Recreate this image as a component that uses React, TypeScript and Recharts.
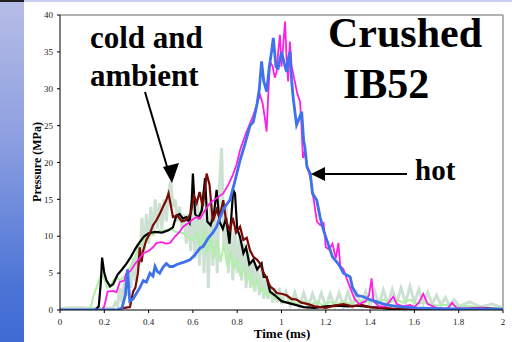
import { LineChart, Line, XAxis, YAxis, ReferenceLine } from "recharts";

// [time ms, pressure MPa]
const hotBlue: [number, number][] = [
  [0, 0], [0.1, 0], [0.2, 0], [0.26, 0], [0.28, 0.3], [0.295, 2], [0.305, 5.5], [0.315, 1.2],
  [0.33, 1.5], [0.346, 2.3], [0.36, 3], [0.376, 4], [0.39, 3.8], [0.406, 5], [0.42, 4.6],
  [0.429, 5.9], [0.44, 5.2], [0.45, 5], [0.465, 5.8], [0.48, 6.3], [0.495, 5.9], [0.51, 5.9],
  [0.53, 6.2], [0.56, 6.5], [0.587, 6.8], [0.61, 7.5], [0.632, 8.4], [0.646, 8.6], [0.67, 9.8],
  [0.69, 10.5], [0.707, 11.3], [0.722, 12.5], [0.74, 13.8], [0.767, 14.9], [0.79, 17.5],
  [0.813, 20.3], [0.835, 22.5], [0.858, 25], [0.873, 25.5], [0.89, 28], [0.9, 30], [0.91, 33.7],
  [0.92, 31], [0.933, 29.6], [0.945, 33], [0.955, 35], [0.963, 36.9], [0.975, 33], [0.985, 32.8],
  [0.993, 34], [1.0, 35], [1.012, 33.5], [1.023, 32.3], [1.03, 34], [1.038, 35], [1.046, 31],
  [1.053, 28.7], [1.06, 27], [1.068, 25.1], [1.08, 26], [1.091, 26.9], [1.1, 23], [1.106, 22],
  [1.115, 19.4], [1.13, 18.5], [1.14, 15.8], [1.159, 14.9], [1.175, 12.5], [1.19, 10.8],
  [1.21, 9], [1.23, 7.2], [1.25, 6.5], [1.264, 5.9], [1.28, 5], [1.31, 4.5], [1.32, 3.1],
  [1.34, 2], [1.37, 1.8], [1.4, 1.4], [1.44, 1.0], [1.475, 0.7], [1.52, 0.5], [1.56, 0.4],
  [1.6, 0.3], [1.7, 0.2], [1.8, 0.15], [1.9, 0.1], [2.0, 0.1],
];

const hotMagenta: [number, number][] = [
  [0, 0], [0.19, 0], [0.2, 0.5], [0.215, 2.5], [0.24, 2.6], [0.255, 2.4], [0.27, 3.8], [0.29, 4],
  [0.3, 5], [0.316, 5.2], [0.34, 6.3], [0.36, 7], [0.376, 7.7], [0.4, 8], [0.42, 8.5],
  [0.436, 9.1], [0.46, 9.2], [0.48, 9], [0.497, 9.1], [0.52, 10], [0.54, 10.6], [0.556, 11.3],
  [0.58, 11.8], [0.6, 12.3], [0.617, 12.6], [0.632, 12.4], [0.65, 13.3], [0.677, 14.5],
  [0.7, 15], [0.737, 15.8], [0.76, 17], [0.78, 18.3], [0.797, 19.7], [0.813, 21.7], [0.84, 24],
  [0.873, 26.4], [0.89, 28], [0.903, 29.2], [0.915, 28], [0.925, 26], [0.933, 24.2], [0.94, 29],
  [0.948, 33.7], [0.96, 33], [0.97, 31.5], [0.978, 32.3], [0.985, 35], [0.993, 37.3], [1.0, 33],
  [1.008, 36], [1.016, 39.1], [1.023, 34], [1.03, 31], [1.038, 36.4], [1.046, 33], [1.053, 32],
  [1.06, 31], [1.07, 29.5], [1.084, 28.2], [1.09, 25.1], [1.097, 20.6], [1.105, 21.5],
  [1.115, 19.5], [1.13, 18], [1.145, 15], [1.16, 12], [1.175, 11.5], [1.19, 11.8], [1.2, 8.5],
  [1.215, 8.2], [1.23, 9], [1.245, 7], [1.257, 9.1], [1.265, 6], [1.28, 5.5], [1.294, 4.3],
  [1.31, 3], [1.33, 1.5], [1.35, 0.8], [1.38, 1.2], [1.395, 2], [1.407, 4.3], [1.415, 1.2],
  [1.44, 0.5], [1.47, 0.5], [1.505, 1.8], [1.52, 0.8], [1.55, 0.5], [1.58, 0.7], [1.6, 0.4],
  [1.62, 1], [1.64, 2.2], [1.66, 0.8], [1.7, 0.3], [1.75, 0.2], [1.77, 1], [1.79, 0.3],
  [1.85, 0.2], [1.9, 0.3], [1.95, 0.1], [2.0, 0.2],
];

const coldBlack: [number, number][] = [
  [0, 0], [0.16, 0], [0.175, 0.5], [0.185, 4], [0.19, 7.1], [0.2, 5], [0.21, 4], [0.226, 3.2],
  [0.24, 3.5], [0.26, 4.8], [0.28, 5.5], [0.3, 6.3], [0.32, 7.2], [0.34, 8.3], [0.36, 9.2],
  [0.38, 10], [0.4, 10.4], [0.43, 10.6], [0.46, 10.5], [0.49, 10.8], [0.51, 11.2], [0.525, 12.8],
  [0.54, 13], [0.555, 12.4], [0.57, 12.6], [0.585, 11.8], [0.595, 15], [0.6, 18.5], [0.61, 13],
  [0.625, 12.5], [0.64, 13.5], [0.655, 17.9], [0.665, 12], [0.68, 11.5], [0.695, 13],
  [0.707, 16.3], [0.72, 12], [0.735, 11], [0.75, 12.5], [0.765, 9], [0.782, 16.3], [0.79, 15.8],
  [0.8, 11], [0.813, 9.9], [0.828, 7.7], [0.84, 8.5], [0.855, 6.2], [0.873, 6.8], [0.89, 5.5],
  [0.91, 6.3], [0.92, 4.5], [0.933, 4.5], [0.948, 2.5], [0.97, 2], [1.0, 1.2], [1.05, 0.8],
  [1.1, 0.4], [1.15, 0.3], [1.2, 0.5], [1.25, 0.6], [1.3, 0.5], [1.35, 0.6], [1.4, 0.4],
  [1.45, 0.3], [1.5, 0.1], [1.6, 0], [2, 0],
];

const coldRed: [number, number][] = [
  [0, 0], [0.26, 0], [0.29, 0.3], [0.316, 0.4], [0.33, 2.5], [0.34, 3], [0.352, 5], [0.36, 8.5],
  [0.368, 6.5], [0.376, 8.1], [0.39, 9.5], [0.406, 10.4], [0.42, 11.5], [0.436, 12.2],
  [0.45, 13], [0.465, 14], [0.48, 14.9], [0.49, 15.8], [0.51, 12.6], [0.53, 12.8], [0.55, 12],
  [0.57, 12.2], [0.59, 13], [0.605, 15.5], [0.617, 14.5], [0.63, 16], [0.645, 14],
  [0.662, 18.5], [0.675, 17], [0.69, 12], [0.707, 13.6], [0.72, 12.5], [0.737, 14.9], [0.75, 12],
  [0.767, 10.8], [0.78, 12.5], [0.795, 10.5], [0.813, 11.3], [0.828, 9.5], [0.843, 9.8],
  [0.858, 8.1], [0.873, 7.2], [0.89, 6.8], [0.903, 6.3], [0.92, 5], [0.935, 4.2], [0.948, 3.2],
  [0.965, 2.8], [0.978, 2.3], [1.0, 2.2], [1.023, 2.0], [1.045, 1.5], [1.068, 1.4], [1.09, 1],
  [1.12, 0.8], [1.15, 0.5], [1.2, 0.3], [1.24, 0.6], [1.28, 0.8], [1.32, 0.5], [1.36, 0.7],
  [1.4, 0.4], [1.45, 0.3], [1.5, 0.2], [1.6, 0.1], [1.8, 0.1], [1.9, 0.3], [1.95, 0.2], [2, 0.1],
];

const coldGreen: [number, number][] = [
  [0, 0], [0.12, 0], [0.14, 0.5], [0.15, 1.8], [0.17, 3.5], [0.188, 5], [0.2, 4.2], [0.213, 3],
  [0.226, 3.2], [0.24, 4], [0.256, 4.5], [0.27, 4], [0.285, 4.4], [0.3, 5], [0.32, 6],
  [0.346, 7.7], [0.37, 9], [0.391, 9.9], [0.42, 10.3], [0.45, 10.8], [0.48, 10.8], [0.497, 11.1],
  [0.52, 10.6], [0.556, 10.4], [0.58, 9.8], [0.602, 9.5], [0.62, 10.5], [0.635, 8], [0.65, 11],
  [0.665, 7.5], [0.68, 10], [0.695, 7], [0.71, 9.5], [0.725, 6.5], [0.74, 9], [0.755, 6],
  [0.77, 8], [0.785, 5.5], [0.8, 7], [0.815, 4.5], [0.83, 6], [0.845, 4], [0.86, 5], [0.875, 3],
  [0.89, 4], [0.905, 2.5], [0.92, 3], [0.935, 1.8], [0.95, 2.5], [0.97, 1.5], [0.99, 1.8],
  [1.01, 1], [1.04, 1.3], [1.07, 0.8], [1.1, 1.2], [1.13, 0.7], [1.16, 1.1], [1.19, 0.6],
  [1.22, 1.1], [1.25, 0.7], [1.28, 1.2], [1.31, 0.8], [1.34, 1.3], [1.37, 0.9], [1.4, 1.3],
  [1.43, 0.9], [1.46, 1.4], [1.49, 1], [1.52, 1.4], [1.55, 1], [1.58, 1.4], [1.61, 0.9],
  [1.65, 1], [1.7, 0.6], [1.75, 0.7], [1.8, 0.5], [1.85, 0.5], [1.9, 0.3], [2, 0.2],
];

const coldPale: [number, number][] = [
  [0, 0.2], [0.05, 0.3], [0.1, 0.3], [0.15, 0.2], [0.2, 0.2], [0.24, 0.3],
  [0.25, 1], [0.26, 0.5], [0.27, 3], [0.28, 1], [0.29, 4], [0.3, 2], [0.31, 5], [0.32, 3],
  [0.33, 7], [0.34, 4], [0.35, 9], [0.36, 6], [0.37, 12.5], [0.38, 8], [0.39, 13], [0.4, 9],
  [0.41, 14], [0.42, 10], [0.43, 15], [0.44, 11], [0.45, 14.5], [0.46, 11], [0.47, 15],
  [0.48, 12], [0.49, 16], [0.5, 17.5], [0.51, 14], [0.52, 15], [0.53, 12], [0.54, 14],
  [0.55, 11], [0.56, 13], [0.57, 9], [0.58, 13], [0.59, 8], [0.6, 14], [0.61, 7], [0.62, 15],
  [0.63, 6], [0.64, 16], [0.65, 5], [0.66, 14], [0.67, 3], [0.68, 15], [0.69, 6], [0.7, 13],
  [0.71, 5], [0.72, 17], [0.73, 22], [0.74, 8], [0.75, 14], [0.76, 5], [0.77, 12], [0.78, 4],
  [0.79, 11], [0.8, 5], [0.81, 10], [0.82, 4], [0.83, 9], [0.84, 3], [0.85, 8], [0.86, 3],
  [0.87, 7], [0.88, 2.5], [0.89, 6], [0.9, 2], [0.91, 5.5], [0.92, 1.5], [0.93, 4.5],
  [0.94, 1.5], [0.95, 3.5], [0.96, 1], [0.97, 3], [0.98, 1], [0.99, 3], [1.0, 0.8],
  [1.02, 2.5], [1.04, 0.6], [1.06, 2.4], [1.08, 0.5], [1.1, 2.3], [1.12, 0.5], [1.14, 2.2],
  [1.16, 0.5], [1.18, 2.3], [1.2, 0.4], [1.22, 2.2], [1.24, 0.5], [1.26, 2.3], [1.28, 0.5],
  [1.3, 2.4], [1.32, 0.6], [1.34, 2.3], [1.36, 0.6], [1.38, 2.5], [1.4, 0.7], [1.42, 2.6],
  [1.44, 0.7], [1.46, 2.7], [1.48, 0.8], [1.5, 2.8], [1.52, 0.9], [1.54, 3], [1.56, 1],
  [1.58, 3.2], [1.6, 1], [1.62, 2.8], [1.64, 0.9], [1.66, 2.4], [1.68, 0.8], [1.7, 2],
  [1.72, 0.7], [1.74, 1.7], [1.76, 0.6], [1.78, 1.4], [1.8, 0.5], [1.85, 1.1], [1.9, 0.4],
  [1.95, 0.8], [2.0, 0.3],
];

const xTicks = [0, 0.2, 0.4, 0.6, 0.8, 1, 1.2, 1.4, 1.6, 1.8, 2];
const yTicks = [0, 5, 10, 15, 20, 25, 30, 35, 40];

const toRows = (pts: [number, number][]) => pts.map(([t, p]) => ({ t, p }));

const serif = "'Liberation Serif', 'Times New Roman', serif";
const tickStyle = { fontSize: 9, fill: "#222", fontFamily: serif };

export default function App() {
  return (
    <div style={{ position: "absolute", left: 0, top: 0, width: 512, height: 342, background: "#fff", overflow: "hidden" }}>
      {/* slide decoration on the left */}
      <div
        style={{
          position: "absolute", left: 0, top: 2, width: 24, height: 340,
          background: "linear-gradient(#b6bde6, #8d9fe0 40%, #4a73d6 85%, #3f6bd3)",
        }}
      />
      <div style={{ position: "absolute", left: 0, top: 0, width: 24, height: 2, background: "#222" }} />
      <div style={{ position: "absolute", left: 24, top: 0, width: 488, height: 2, background: "#c9cdf0" }} />

      <div style={{ position: "absolute", left: 0, top: 0 }}>
        <LineChart width={512} height={342} margin={{ top: 15, right: 9, left: 30, bottom: 0 }}>
          <XAxis
            type="number"
            dataKey="t"
            domain={[0, 2]}
            ticks={xTicks}
            allowDataOverflow
            height={32}
            tick={tickStyle}
            tickSize={3}
            tickMargin={6}
            stroke="#000"
          />
          <YAxis
            type="number"
            dataKey="p"
            domain={[0, 40]}
            ticks={yTicks}
            allowDataOverflow
            width={30}
            tick={tickStyle}
            tickSize={3}
            tickMargin={4}
            stroke="#000"
          />
          <ReferenceLine y={40} stroke="#999" strokeWidth={1.5} />
          <ReferenceLine x={2} stroke="#999" strokeWidth={1.5} />
          <Line data={toRows(coldPale)} dataKey="p" stroke="#c4dccb" strokeWidth={3} strokeOpacity={0.85} dot={false} isAnimationActive={false} />
          <Line data={toRows(coldGreen)} dataKey="p" stroke="#b2efa8" strokeWidth={2} dot={false} isAnimationActive={false} />
          <Line data={toRows(coldBlack)} dataKey="p" stroke="#000" strokeWidth={2.2} dot={false} isAnimationActive={false} />
          <Line data={toRows(coldRed)} dataKey="p" stroke="#7a0a06" strokeWidth={2.2} dot={false} isAnimationActive={false} />
          <Line data={toRows(hotMagenta)} dataKey="p" stroke="#ff1ee6" strokeWidth={1.8} dot={false} isAnimationActive={false} />
          <Line data={toRows(hotBlue)} dataKey="p" stroke="#3d72ec" strokeWidth={2.8} dot={false} isAnimationActive={false} />
        </LineChart>
      </div>

      <svg width={512} height={342} style={{ position: "absolute", left: 0, top: 0, pointerEvents: "none" }}>
        <g fontFamily={serif} fontWeight="bold" fill="#000">
          <text x={90} y={48} fontSize={31}>cold and</text>
          <text x={90} y={86} fontSize={31}>ambient</text>
          <text x={328} y={47} fontSize={42}>Crushed</text>
          <text x={343} y={98} fontSize={42}>IB52</text>
          <text x={415} y={180} fontSize={29}>hot</text>
          <text x={282} y={338} fontSize={13} textAnchor="middle">Time (ms)</text>
          <text x={0} y={0} fontSize={12} textAnchor="middle" transform="translate(41 162) rotate(-90)">Pressure (MPa)</text>
        </g>
        <line x1={145} y1={92} x2={168} y2={170} stroke="#000" strokeWidth={2} />
        <polygon points="172,183 163,167 179,163" fill="#000" />
        <line x1={407} y1={174} x2={322} y2={174} stroke="#000" strokeWidth={2} />
        <polygon points="311,174 325,167 325,181" fill="#000" />
      </svg>
    </div>
  );
}
